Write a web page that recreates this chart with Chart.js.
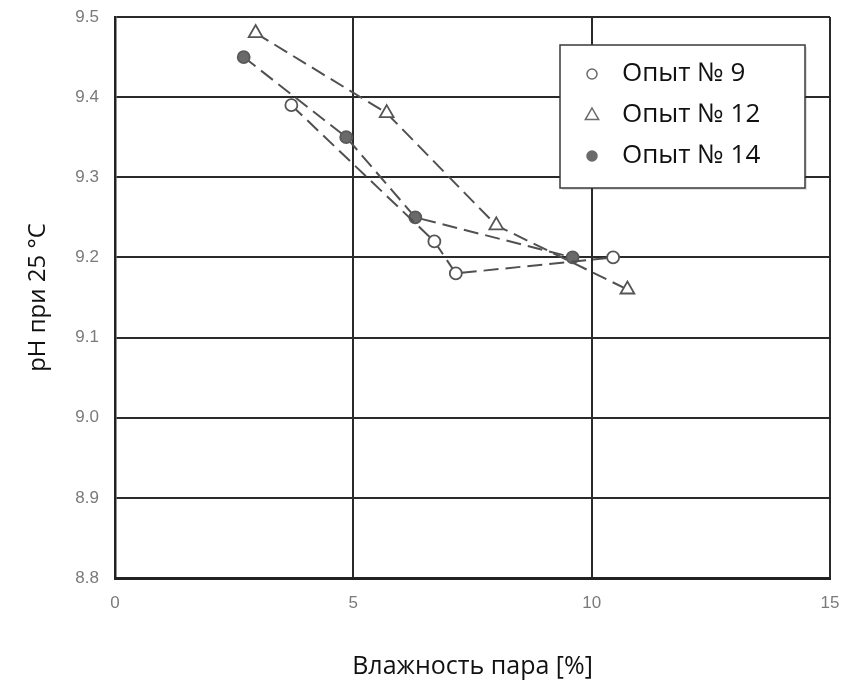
<!DOCTYPE html>
<html><head><meta charset="utf-8">
<script src="https://cdn.jsdelivr.net/npm/chart.js@4/dist/chart.umd.min.js"></script>
<style>html,body{margin:0;padding:0;background:#fff;}canvas{display:block;}</style>
</head><body>
<canvas id="c" width="843" height="682"></canvas>
<script>
const seriesLabels = ['Опыт № 9', 'Опыт № 12', 'Опыт № 14'];
const run9X  = [3.7, 6.7, 7.15, 10.45];
const run9Y  = [9.39, 9.22, 9.18, 9.20];
const run12X = [2.95, 5.7, 8.0, 10.75];
const run12Y = [9.48, 9.38, 9.24, 9.16];
const run14X = [2.7, 4.85, 6.3, 9.6];
const run14Y = [9.45, 9.35, 9.25, 9.20];
const xTickValues = [0, 5, 10, 15];
const yTickValues = [8.8, 8.9, 9.0, 9.1, 9.2, 9.3, 9.4, 9.5];
const xTitle = 'Влажность пара [%]';
const yTitle = 'pH при 25 °C';

function pts(xs, ys) { return xs.map((x, i) => ({x: x, y: ys[i]})); }

const styles = [
  {pointStyle: 'circle', radius: 6, bg: '#ffffff', border: '#555555'},
  {pointStyle: 'triangle', radius: 8, bg: '#ffffff', border: '#555555'},
  {pointStyle: 'circle', radius: 6, bg: '#6a6a6a', border: '#5a5a5a'}
];
const seriesData = [pts(run9X, run9Y), pts(run12X, run12Y), pts(run14X, run14Y)];

const datasets = seriesData.map((d, i) => ({
  label: seriesLabels[i],
  data: d,
  showLine: true,
  borderColor: '#505050',
  borderWidth: 2,
  borderDash: [15, 7],
  pointStyle: styles[i].pointStyle,
  pointRadius: styles[i].radius,
  pointBackgroundColor: styles[i].bg,
  pointBorderColor: styles[i].border,
  pointBorderWidth: 1.8,
  tension: 0
}));

const legendPlugin = {
  id: 'boxLegend',
  afterDraw(chart) {
    const ctx = chart.ctx;
    const x0 = 560, y0 = 45, w = 245, h = 143;
    ctx.save();
    ctx.fillStyle = 'rgba(0,0,0,0.12)';
    ctx.fillRect(x0 + 2, y0 + 2, w, h);
    ctx.fillStyle = '#ffffff';
    ctx.fillRect(x0, y0, w, h);
    ctx.strokeStyle = '#3a3a3a';
    ctx.lineWidth = 1.5;
    ctx.strokeRect(x0, y0, w, h);
    chart.data.datasets.forEach((ds, i) => {
      const cy = 74 + i * 41;
      ctx.fillStyle = ds.pointBackgroundColor;
      ctx.strokeStyle = '#6a6a6a';
      ctx.lineWidth = 1.5;
      ctx.beginPath();
      if (ds.pointStyle === 'triangle') {
        const r = 7;
        ctx.moveTo(592, cy - r);
        ctx.lineTo(592 + r * 0.95, cy + r * 0.65);
        ctx.lineTo(592 - r * 0.95, cy + r * 0.65);
        ctx.closePath();
      } else {
        ctx.arc(592, cy, 5, 0, Math.PI * 2);
      }
      ctx.fill();
      ctx.stroke();
      ctx.fillStyle = '#111111';
      ctx.font = '26px "Open Sans"';
      ctx.textBaseline = 'middle';
      ctx.textAlign = 'left';
      ctx.fillText(ds.label, 622, cy);
    });
    ctx.restore();
  }
};

new Chart(document.getElementById('c'), {
  type: 'scatter',
  data: {datasets: datasets},
  plugins: [legendPlugin],
  options: {
    responsive: false,
    animation: false,
    devicePixelRatio: 1,
    layout: {padding: {top: 17, right: 13, left: 0, bottom: 0}},
    plugins: {legend: {display: false}, tooltip: {enabled: false}},
    scales: {
      x: {
        type: 'linear', min: 0, max: 15,
        afterBuildTicks: s => { s.ticks = xTickValues.map(v => ({value: v})); },
        afterFit: s => { s.height = 104; s.paddingLeft = 0; s.paddingRight = 0; },
        border: {display: true, color: '#222', width: 3},
        grid: {color: '#2a2a2a', lineWidth: 2, drawTicks: false},
        ticks: {padding: 15, color: '#7a7a7a', font: {family: '"Liberation Sans"', size: 17}},
        title: {display: true, text: xTitle, color: '#111', font: {family: '"Open Sans"', size: 25}, padding: {top: 13, bottom: 0}}
      },
      y: {
        type: 'linear', min: 8.8, max: 9.5,
        afterBuildTicks: s => { s.ticks = yTickValues.map(v => ({value: v})); },
        afterFit: s => { s.width = 115; s.paddingTop = 0; s.paddingBottom = 0; },
        border: {display: true, color: '#222', width: 2.5},
        grid: {color: '#2a2a2a', lineWidth: 2, drawTicks: false},
        ticks: {padding: 16, color: '#7a7a7a', font: {family: '"Liberation Sans"', size: 17}, callback: v => Number(v).toFixed(1)},
        title: {display: true, text: yTitle, color: '#111', font: {family: '"Open Sans"', size: 24}, padding: {top: 24, bottom: 0}}
      }
    }
  }
});
</script>
</body></html>
